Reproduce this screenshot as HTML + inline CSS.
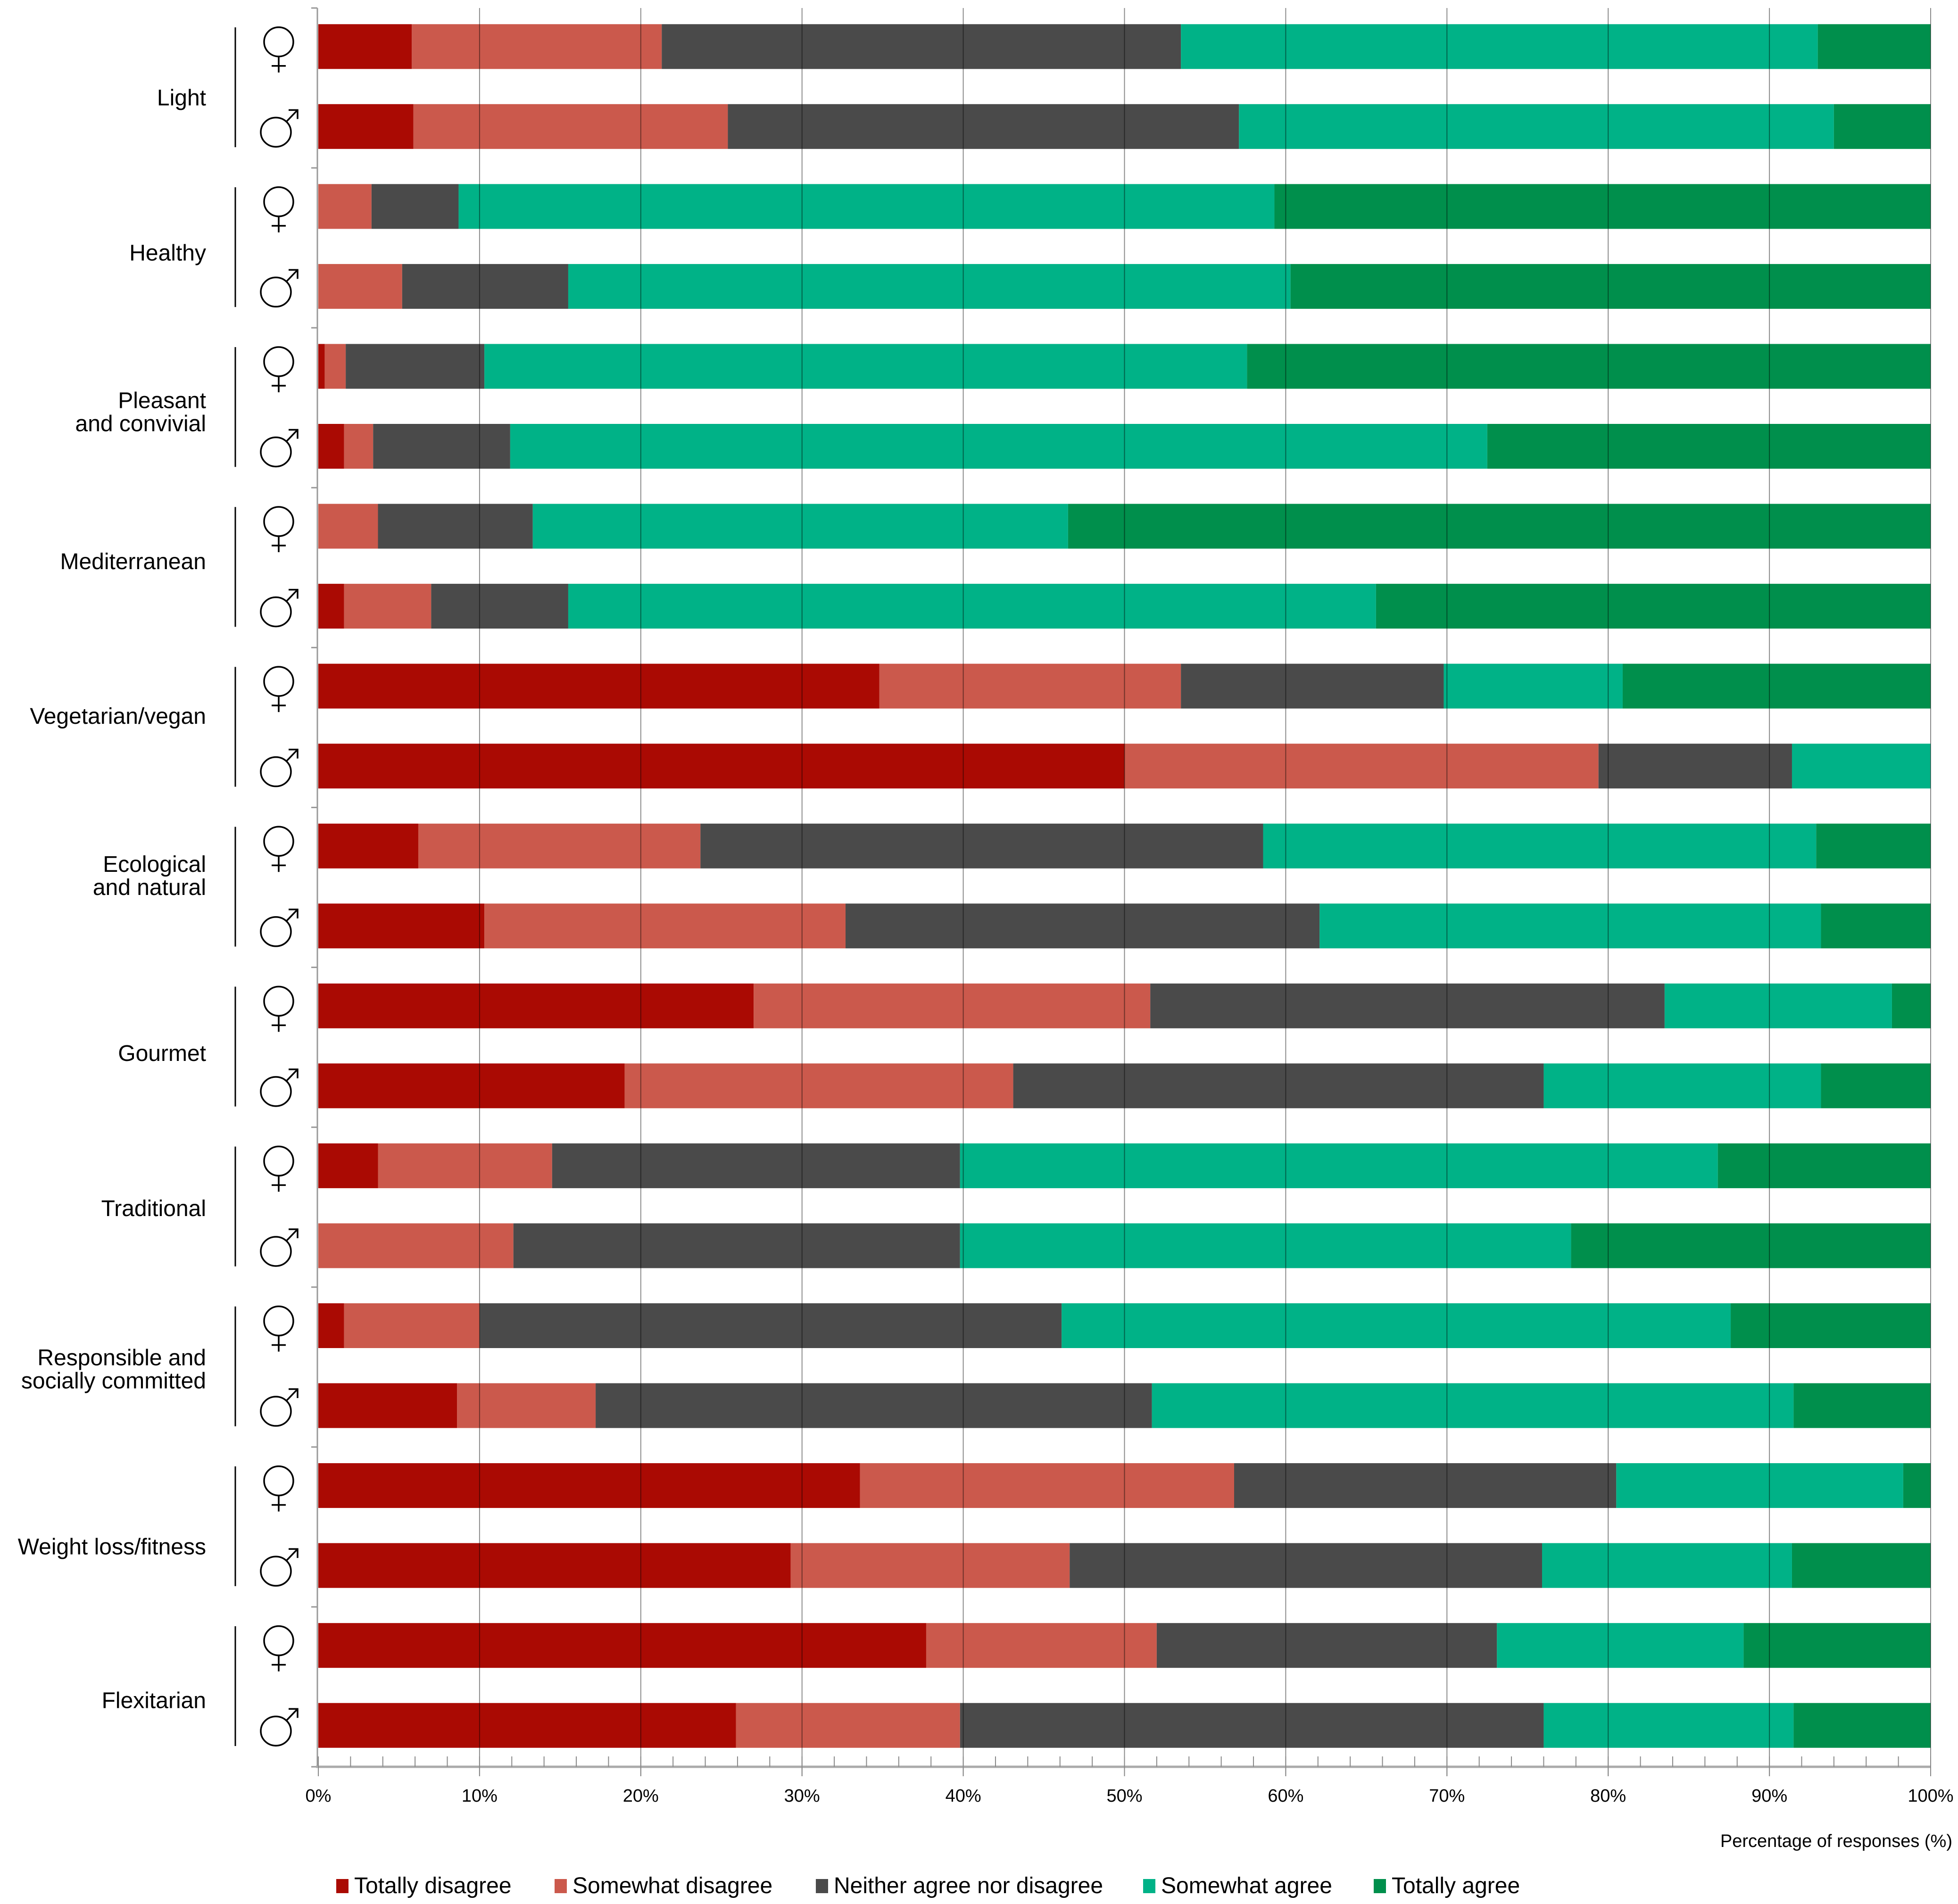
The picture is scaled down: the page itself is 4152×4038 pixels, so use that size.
<!DOCTYPE html>
<html><head><meta charset="utf-8"><style>
html,body{margin:0;padding:0;background:#fff;}
svg{display:block;}
text{font-family:"Liberation Sans",sans-serif;}
</style></head><body>
<svg id="chart" width="4152" height="4038" viewBox="0 0 4152 4038" xmlns="http://www.w3.org/2000/svg"></svg>
<script>
const categories = [["Light"],["Healthy"],["Pleasant","and convivial"],["Mediterranean"],["Vegetarian/vegan"],["Ecological","and natural"],["Gourmet"],["Traditional"],["Responsible and","socially committed"],["Weight loss/fitness"],["Flexitarian"]];
const responseLabels = ["Totally disagree","Somewhat disagree","Neither agree nor disagree","Somewhat agree","Totally agree"];
const colors = ["#aa0a03","#cb594c","#4a4a4a","#00b287","#008f4c"];
const totallyDisagree = [5.8,5.9, 0,0, 0.4,1.6, 0,1.6, 34.8,50.0, 6.2,10.3, 27.0,19.0, 3.7,0, 1.6,8.6, 33.6,29.3, 37.7,25.9];
const somewhatDisagree = [15.5,19.5, 3.3,5.2, 1.3,1.8, 3.7,5.4, 18.7,29.4, 17.5,22.4, 24.6,24.1, 10.8,12.1, 8.4,8.6, 23.2,17.3, 14.3,13.9];
const neither = [32.2,31.7, 5.4,10.3, 8.6,8.5, 9.6,8.5, 16.3,12.0, 34.9,29.4, 31.9,32.9, 25.3,27.7, 36.1,34.5, 23.7,29.3, 21.1,36.2];
const somewhatAgree = [39.5,36.9, 50.6,44.8, 47.3,60.6, 33.2,50.1, 11.1,8.6, 34.3,31.1, 14.1,17.2, 47.0,37.9, 41.5,39.8, 17.8,15.5, 15.3,15.5];
const totallyAgree = [7.0,6.0, 40.7,39.7, 42.4,27.5, 53.5,34.4, 19.1,0, 7.1,6.8, 2.4,6.8, 13.2,22.3, 12.4,8.5, 1.7,8.6, 11.6,8.5];
const xTicks = [0,10,20,30,40,50,60,70,80,90,100];
const series = [totallyDisagree,somewhatDisagree,neither,somewhatAgree,totallyAgree];

const NS="http://www.w3.org/2000/svg";
const svg=document.getElementById('chart');
const X0=675,X1=4094,Y0=17,Y1=3747;
const catH=(Y1-Y0)/categories.length, slotH=catH/2, barH=95;
const labelShift=[0,-10,-3,-34,-45,-37,-8,-18,-8,21,8];
function xs(v){return X0+(X1-X0)*v/100;}
function mk(tag,attrs,parent){const e=document.createElementNS(NS,tag);for(const k in attrs)e.setAttribute(k,attrs[k]);(parent||svg).appendChild(e);return e;}

const barsG=mk('g',{});


for(let i=0;i<totallyDisagree.length;i++){
  const cy=Y0+slotH*i+slotH/2-3;
  let acc=0;
  for(let s=0;s<series.length;s++){
    const v=series[s][i];
    if(v>0){
      const r=mk('rect',{x:xs(acc),y:cy-barH/2,width:xs(acc+v)-xs(acc),height:barH,fill:colors[s]},barsG);
      
      
    }
    acc+=v;
  }
}
for(const t of xTicks){
  if(t===0)continue;
  const l=mk('line',{x1:xs(t),x2:xs(t),y1:Y0,y2:Y1+20,stroke:'#000','stroke-opacity':0.45,'stroke-width':2});
  
  
}
const ya=mk('line',{x1:673,x2:673,y1:Y0,y2:Y1,stroke:'#999','stroke-width':3});


for(let c=0;c<=categories.length;c++){
  mk('line',{x1:660,x2:673,y1:Y0+catH*c,y2:Y0+catH*c,stroke:'#999','stroke-width':3});
}
const xa=mk('line',{x1:670,x2:X1,y1:Y1,y2:Y1,stroke:'#aaa','stroke-width':5});


for(let t=0;t<=100;t+=2){
  mk('line',{x1:xs(t),x2:xs(t),y1:Y1-22,y2:Y1,stroke:'#888','stroke-width':2});
}
for(const t of xTicks){
  mk('line',{x1:xs(t),x2:xs(t),y1:Y1,y2:Y1+20,stroke:'#888','stroke-width':2});
  const tx=mk('text',{x:xs(t),y:Y1+74,'font-size':38,'text-anchor':'middle',fill:'#000'});
  tx.textContent=t+'%';
  
  
}
const at=mk('text',{x:4140,y:3917,'font-size':38,'text-anchor':'end',fill:'#000'});
at.textContent='Percentage of responses (%)';



for(let c=0;c<categories.length;c++){
  const top=Y0+catH*c, cc=top+catH/2+labelShift[c];
  const lines=categories[c];
  const t=mk('text',{x:437,'font-size':48,'text-anchor':'end',fill:'#000'});
  
  
  if(lines.length===1){t.setAttribute('y',cc+37);t.textContent=lines[0];}
  else{
    lines.forEach((ln,k)=>{const ts=mk('tspan',{x:437,y:cc+4+49*k},t);ts.textContent=ln;});
  }
  const br=mk('line',{x1:499,x2:499,y1:top+41,y2:top+catH-44,stroke:'#000','stroke-width':3});
  
  
  const fy=top+slotH/2-3;
  const f=mk('g',{fill:'none',stroke:'#000','stroke-width':3.5});
  
  
  mk('ellipse',{cx:591,cy:fy-10,rx:31,ry:31},f);
  mk('line',{x1:591,x2:591,y1:fy+21,y2:fy+55},f);
  mk('line',{x1:576,x2:606,y1:fy+41,y2:fy+41},f);
  const my=top+slotH*1.5-3;
  const m=mk('g',{fill:'none',stroke:'#000','stroke-width':3.5});
  
  
  mk('ellipse',{cx:585,cy:my+12,rx:32,ry:31},m);
  mk('line',{x1:607,x2:631,y1:my-10,y2:my-35},m);
  mk('polyline',{points:`612,${my-35} 631,${my-35} 631,${my-16}`},m);
}
const legX=[713,1176,1730,2424,2913];
for(let s=0;s<responseLabels.length;s++){
  const g=mk('g',{});
  
  
  mk('rect',{x:legX[s],y:3985,width:26,height:30,fill:colors[s]},g);
  const t=mk('text',{x:legX[s]+38,y:4015,'font-size':48,fill:'#000'},g);
  t.textContent=responseLabels[s];
}
</script>
</body></html>
